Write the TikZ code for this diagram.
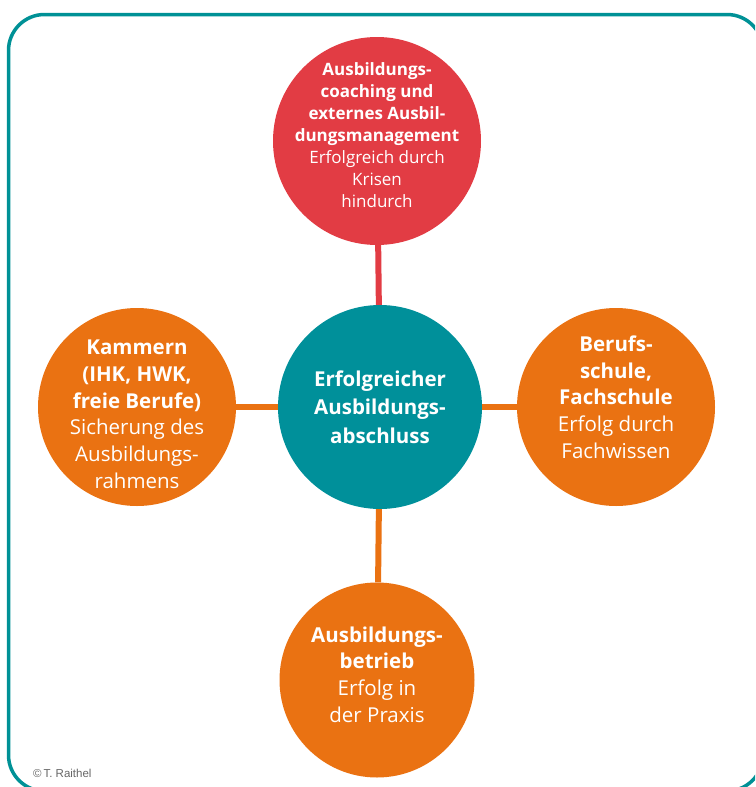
\documentclass[tikz,border=0pt]{standalone}
\usepackage{fontspec}
\setmainfont{Open Sans}
\newfontfamily\notefont{Liberation Sans}
\usepackage{tikz}
\usetikzlibrary{positioning}
\definecolor{coreTeal}{RGB}{0,144,154}
\definecolor{frameTeal}{RGB}{0,145,150}
\definecolor{coachRed}{RGB}{226,60,68}
\definecolor{partOrange}{RGB}{234,114,18}

\begin{document}
\begin{tikzpicture}[x=1pt, y=-1pt,
        bubble/.style={circle, draw=none, text=white, align=center,
                       inner sep=-60pt, font=\fontsize{20.5}{26.8}\selectfont},
        link/.style={line width=6pt},
      ]
        \useasboundingbox (0,0) rectangle (755,787);
        \clip (0,0) rectangle (755,787);
        % Frame
        \draw[frameTeal, line width=3.5pt, rounded corners=36pt]
            (8.5,14.5) rectangle (763,791);
        % Centre and the four partners
        \node[bubble, fill=coreTeal, minimum size=204pt,
              font=\fontsize{20.5}{28.5}\selectfont\bfseries] (core) at (380,407)
            {Erfolgreicher\\Ausbildungs-\\abschluss};
        \node[bubble, fill=coachRed, minimum size=208pt, text depth=11pt,
              font=\fontsize{17}{22}\selectfont] (coach) at (377,141)
            {\textbf{Ausbildungs-}\\\textbf{coaching und}\\\textbf{externes Ausbil-}\\
             \textbf{dungsmanagement}\\Erfolgreich durch\\Krisen\\hindurch};
        \node[bubble, fill=partOrange, minimum size=198pt, text height=163pt] (chamber) at (137,407)
            {\textbf{Kammern}\\\textbf{(IHK, HWK,}\\\textbf{freie Berufe)}\\
             Sicherung des\\Ausbildungs-\\rahmens};
        \node[bubble, fill=partOrange, minimum size=198pt, text depth=20pt] (school) at (616,407)
            {\textbf{Berufs-}\\\textbf{schule,}\\\textbf{Fachschule}\\
             Erfolg durch\\Fachwissen};
        \node[bubble, fill=partOrange, minimum size=195pt, text depth=11pt] (firm) at (377,680)
            {\textbf{Ausbildungs-}\\\textbf{betrieb}\\Erfolg in\\der Praxis};
        % Links between the circles
        \draw[link, coachRed] (coach) -- (core);
        \draw[link, partOrange] (core) -- (chamber);
        \draw[link, partOrange] (core) -- (school);
        \draw[link, partOrange] (core) -- (firm);
        % Credit
        \node[anchor=west, text=gray!80!black, inner sep=0pt,
              font=\notefont\fontsize{11.5}{13}\selectfont] (credit) at (33,773)
            {\textcopyright\,T. Raithel};
      \end{tikzpicture}
\end{document}
